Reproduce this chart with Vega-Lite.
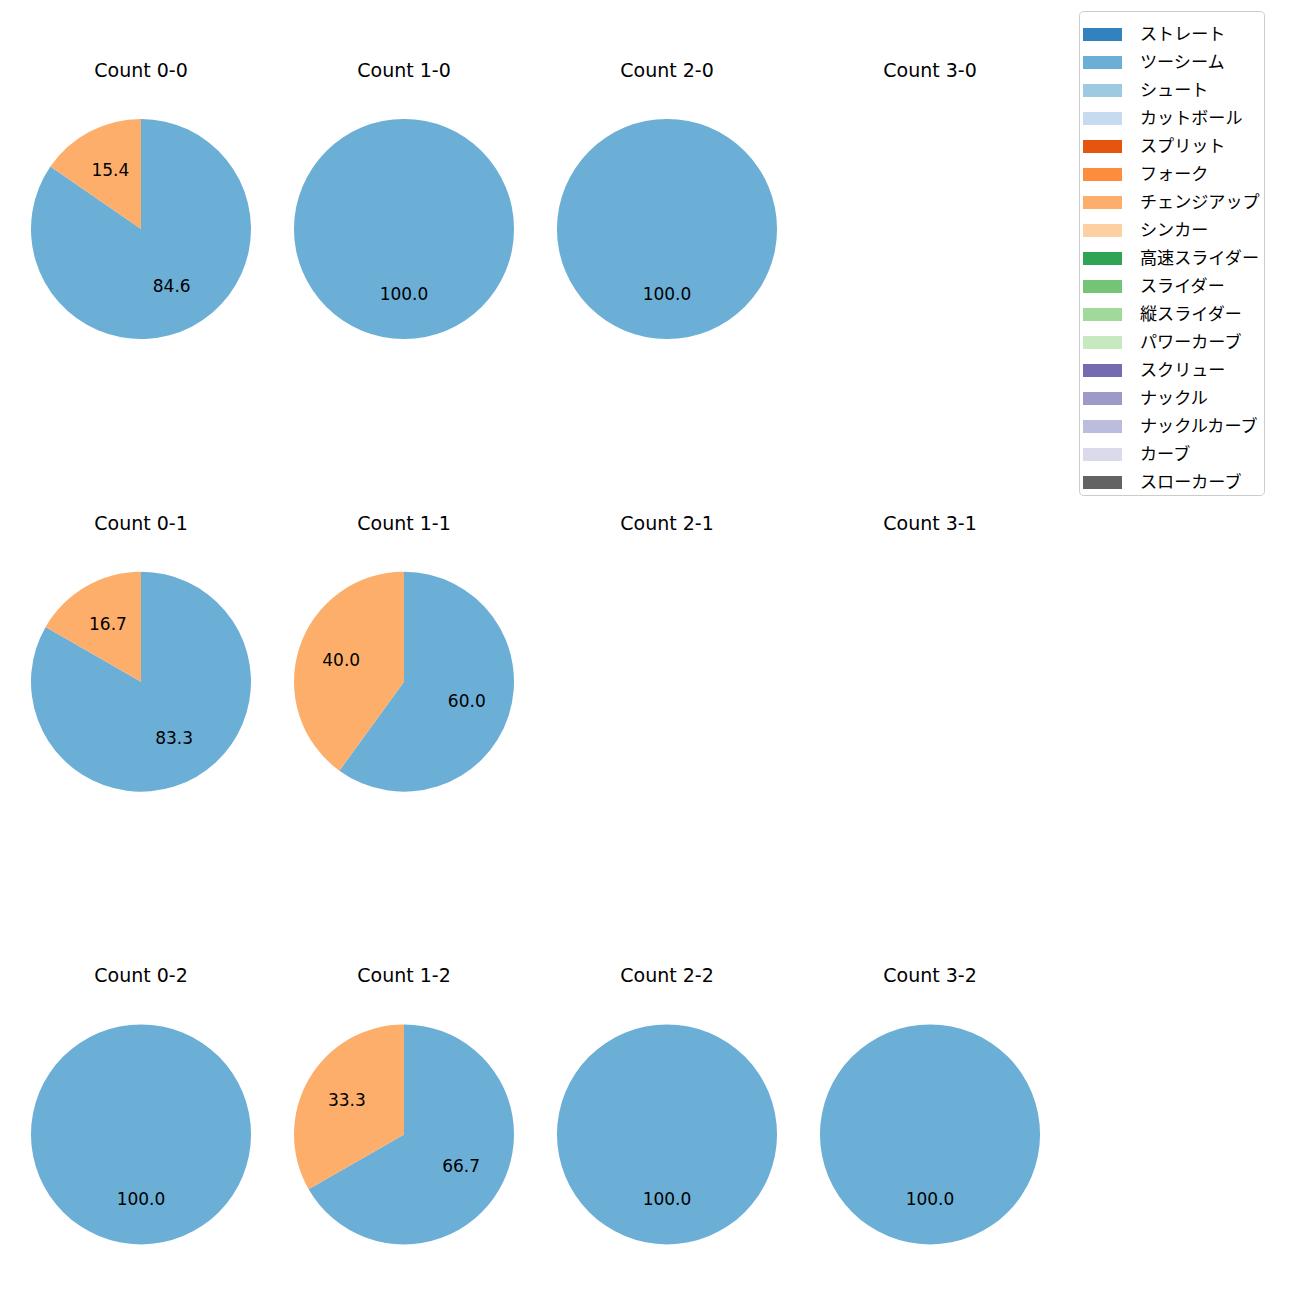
{
  "$schema": "https://vega.github.io/schema/vega-lite/v6.json",
  "padding": {"left": 31, "top": 10, "right": 0, "bottom": 0},
  "background": "white",
  "data": {"values": [
    {"count": "Count 0-0", "pitch": "ツーシーム", "value": 84.6},
    {"count": "Count 0-0", "pitch": "チェンジアップ", "value": 15.4},
    {"count": "Count 1-0", "pitch": "ツーシーム", "value": 100},
    {"count": "Count 2-0", "pitch": "ツーシーム", "value": 100},
    {"count": "Count 3-0", "pitch": "ツーシーム", "value": 0},
    {"count": "Count 0-1", "pitch": "ツーシーム", "value": 83.3},
    {"count": "Count 0-1", "pitch": "チェンジアップ", "value": 16.7},
    {"count": "Count 1-1", "pitch": "ツーシーム", "value": 60},
    {"count": "Count 1-1", "pitch": "チェンジアップ", "value": 40},
    {"count": "Count 2-1", "pitch": "ツーシーム", "value": 0},
    {"count": "Count 3-1", "pitch": "ツーシーム", "value": 0},
    {"count": "Count 0-2", "pitch": "ツーシーム", "value": 100},
    {"count": "Count 1-2", "pitch": "ツーシーム", "value": 66.7},
    {"count": "Count 1-2", "pitch": "チェンジアップ", "value": 33.3},
    {"count": "Count 2-2", "pitch": "ツーシーム", "value": 100},
    {"count": "Count 3-2", "pitch": "ツーシーム", "value": 100}
  ]},
  "facet": {
    "field": "count",
    "type": "nominal",
    "sort": ["Count 0-0", "Count 1-0", "Count 2-0", "Count 3-0", "Count 0-1", "Count 1-1", "Count 2-1", "Count 3-1", "Count 0-2", "Count 1-2", "Count 2-2", "Count 3-2"],
    "header": {"title": null, "labelFontSize": 19, "labelFont": "DejaVu Sans", "labelColor": "black", "labelPadding": 38}
  },
  "columns": 4,
  "spacing": {"column": 43, "row": 175.7},
  "resolve": {"scale": {"theta": "shared"}},
  "spec": {
    "width": 220,
    "height": 220,
    "encoding": {
      "theta": {"field": "value", "type": "quantitative", "stack": true, "scale": {"domain": [0, 100]}},
      "order": {"field": "pitch", "sort": "descending"}
    },
    "layer": [
      {
        "mark": {"type": "arc", "outerRadius": 110},
        "encoding": {
          "color": {
            "field": "pitch",
            "type": "nominal",
            "scale": {
              "domain": ["ストレート", "ツーシーム", "シュート", "カットボール", "スプリット", "フォーク", "チェンジアップ", "シンカー", "高速スライダー", "スライダー", "縦スライダー", "パワーカーブ", "スクリュー", "ナックル", "ナックルカーブ", "カーブ", "スローカーブ"],
              "range": ["#3182bd", "#6baed6", "#9ecae1", "#c6dbef", "#e6550d", "#fd8d3c", "#fdae6b", "#fdd0a2", "#31a354", "#74c476", "#a1d99b", "#c7e9c0", "#756bb1", "#9e9ac8", "#bcbddc", "#dadaeb", "#636363"]
            },
            "legend": {
              "title": null,
              "orient": "none",
              "legendX": 1048,
              "legendY": -108,
              "symbolType": "M-1,-0.3333H1V0.3333H-1Z",
              "symbolSize": 1521,
              "symbolStrokeWidth": 0,
              "labelFont": "Noto Sans CJK JP",
              "labelFontSize": 17.1,
              "labelColor": "black",
              "labelOffset": 18,
              "rowPadding": 0,
              "padding": 4,
              "strokeColor": "#cccccc",
              "fillColor": "white",
              "cornerRadius": 4,
              "labelLimit": 300
            }
          }
        }
      },
      {
        "transform": [{"filter": "datum.value > 0"}],
        "mark": {"type": "text", "radius": 66, "fontSize": 17, "font": "DejaVu Sans", "color": "black"},
        "encoding": {
          "text": {"field": "value", "type": "quantitative", "format": ".1f"}
        }
      }
    ]
  },
  "config": {"view": {"stroke": null}}
}
